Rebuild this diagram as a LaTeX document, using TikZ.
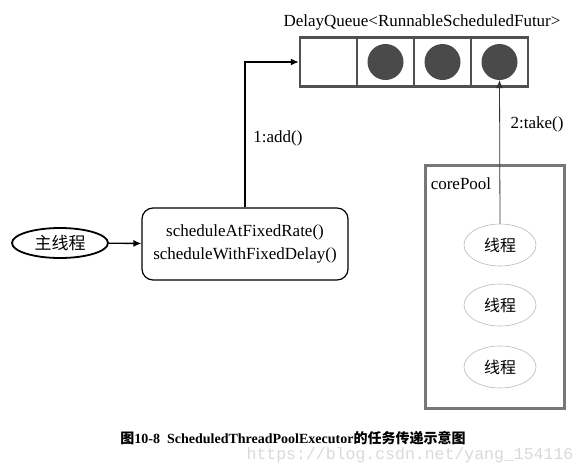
\documentclass[tikz,border=0pt]{standalone}
\usepackage{fontspec}
\setmainfont{Liberation Serif}
\newfontfamily\cjk{Noto Sans CJK SC}
\newfontfamily\markfont{Liberation Mono}
\usetikzlibrary{arrows.meta,shapes.geometric}
\definecolor{cellgray}{HTML}{505050}
\definecolor{dotgray}{HTML}{4A4A4A}
\definecolor{poolgray}{HTML}{777777}

\begin{document}
\begin{tikzpicture}[
    x=1pt,
    y=-1pt,
    every node/.style={font=\fontsize{17}{23}\selectfont},
    cell/.style={draw=cellgray, line width=2.5pt, minimum width=57pt, minimum height=49pt, inner sep=0pt},
    item/.style={circle, fill=dotgray, minimum size=36pt, inner sep=0pt},
    thread/.style={ellipse, draw=gray!55, line width=0.6pt, minimum width=72pt, minimum height=42pt, inner sep=0pt, font=\cjk\fontsize{16}{18}\selectfont},
    arrow/.style={-{Latex[length=8pt,width=7pt]}, line width=1.3pt},
    thinarrow/.style={-{Latex[length=8pt,width=7pt]}, line width=0.8pt, draw=black!80}
]
\useasboundingbox (0,0) rectangle (587,472);

% delay queue
\node (qlabel) at (422,22) {DelayQueue<RunnableScheduledFutur>};
\foreach \i/\x in {1/328.5,2/385.5,3/442.5,4/499.5}
  \node[cell] (c\i) at (\x,62) {};
\foreach \i in {2,3,4}
  \node[item] (d\i) at (c\i) {};

% caller
\node[ellipse, draw, line width=1.8pt, minimum width=96pt, minimum height=30pt, inner sep=0pt, font=\cjk\fontsize{17}{20}\selectfont] (main) at (60,243) {主线程};
\node[draw, rounded corners=11pt, line width=1.2pt, minimum width=206pt, minimum height=72pt, align=center] (sched) at (245,244)
  {scheduleAtFixedRate()\\scheduleWithFixedDelay()};

\draw[arrow] (main) -- (sched);
\draw[arrow] (sched.north) |- (c1.west);
\node (addlbl) at (278,138) {1:add()};

% core pool
\node[draw=poolgray, line width=3pt, minimum width=139pt, minimum height=243pt] (pool) at (494.5,286.5) {};
\node (pooltxt) at (461,184) {corePool};
\node[thread] (t1) at (500,245) {线程};
\node[thread] (t2) at (500,305) {线程};
\node[thread] (t3) at (500,367) {线程};

\draw[thinarrow] (t1.north) -- (d4.south);
\node (takelbl) at (537,124) {2:take()};

% caption
\node (caption) at (293,438) {\fontsize{14}{16}\selectfont\bfseries{\cjk 图}10-8\enspace ScheduledThreadPoolExecutor{\cjk 的任务传递示意图}};
\node[text=gray!30, font=\markfont\fontsize{16.5}{18}\selectfont] (mark) at (410,455) {https://blog.csdn.net/yang\_154116};
\end{tikzpicture}
\end{document}
